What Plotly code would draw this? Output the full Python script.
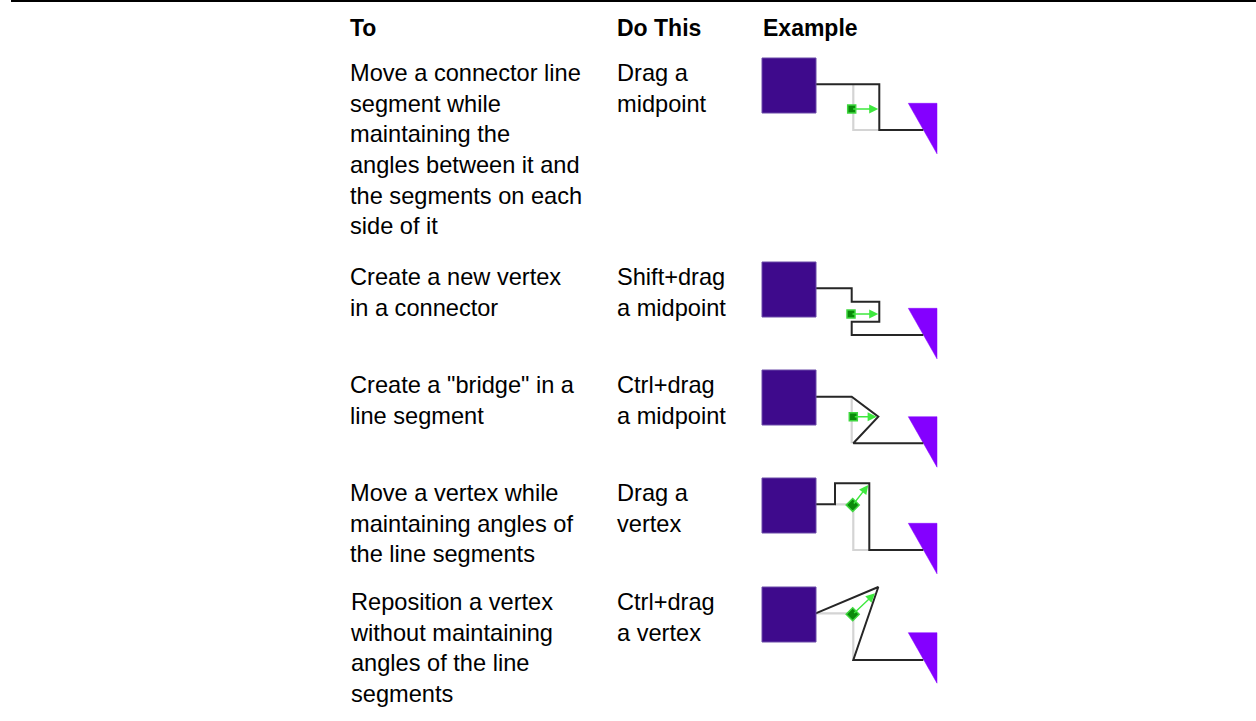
import plotly.graph_objects as go

# ---------------- data ----------------
headers = ["To", "Do This", "Example"]
to_text = [
    "Move a connector line<br>segment while<br>maintaining the<br>angles between it and<br>the segments on each<br>side of it",
    "Create a new vertex<br>in a connector",
    "Create a \"bridge\" in a<br>line segment",
    "Move a vertex while<br>maintaining angles of<br>the line segments",
    "Reposition a vertex<br>without maintaining<br>angles of the line<br>segments",
]
do_text = [
    "Drag a<br>midpoint",
    "Shift+drag<br>a midpoint",
    "Ctrl+drag<br>a midpoint",
    "Drag a<br>vertex",
    "Ctrl+drag<br>a vertex",
]
# example diagrams, in local coordinates relative to the shape's top-left corner
black_paths = [
    [(53.7, 26.3), (117.3, 26.3), (117.3, 72), (161.3, 72)],
    [(53.7, 26.3), (89.7, 26.3), (89.7, 39.7), (117.3, 39.7), (117.3, 59.7), (89.7, 59.7), (89.7, 73), (161.3, 73)],
    [(53.7, 26.7), (89.7, 26.7), (116.3, 46.7), (91.3, 73.3), (161.3, 73.3)],
    [(53.7, 26.3), (73, 26.3), (73, 5.3), (107.3, 5.3), (107.3, 72), (161.3, 72)],
    [(53.7, 26.3), (116.3, 0), (91.3, 73), (161.3, 73)],
]
gray_paths = [
    [(91.3, 26.3), (91.3, 72), (117.3, 72)],
    [],
    [(89.7, 26.7), (89.7, 73.3)],
    [(73, 26.3), (91.3, 26.3), (91.3, 72), (107.3, 72)],
    [(53.7, 26.3), (91.3, 26.3), (91.3, 73)],
]
handles = [(89.7, 51), (89, 52), (91.3, 46.7), (90.7, 27), (90.7, 27.3)]
handle_kind = ["square", "square", "square", "diamond", "diamond"]
arrow_heads = [(116.3, 51), (116.3, 52), (114.7, 46.7), (106.3, 7), (113, 6.3)]
triangle_top = [45.3, 46.3, 46.7, 45.3, 45.7]

# ---------------- layout ----------------
W, H = 1256, 721
FONT = "Liberation Sans, Arial, sans-serif"
col_x = [348, 615, 761]
row_tops = [58, 262, 370, 478, 587]     # top of each example's square
text_offset = 0                         # text box top relative to square top

fig = go.Figure()
shapes = []
annots = []

# top rule
shapes.append(dict(type="rect", x0=11, x1=W, y0=0, y1=2, fillcolor="#000000",
                   line=dict(width=0), layer="above"))

# headers
for h, x in zip(headers, col_x):
    annots.append(dict(x=x, y=13, text="<b>%s</b>" % h, xanchor="left", yanchor="top",
                       showarrow=False, font=dict(family=FONT, size=23, color="#000000")))

for i in range(5):
    top = row_tops[i]
    annots.append(dict(x=col_x[0], y=top + text_offset, text=to_text[i], xanchor="left",
                       yanchor="top", align="left", showarrow=False,
                       font=dict(family=FONT, size=23.6, color="#000000")))
    annots.append(dict(x=col_x[1], y=top + text_offset, text=do_text[i], xanchor="left",
                       yanchor="top", align="left", showarrow=False,
                       font=dict(family=FONT, size=23.6, color="#000000")))

    ox, oy = 762, top
    # square
    shapes.append(dict(type="rect", x0=ox, x1=ox + 54, y0=oy, y1=oy + 55,
                       fillcolor="#3e0a8c", line=dict(color="#6a4aa8", width=1)))
    # triangle (clipped)
    tt = triangle_top[i]
    tri = [(146.3, tt), (175, tt), (175, tt + 50.5)]
    fig.add_trace(go.Scatter(x=[ox + p[0] for p in tri] + [ox + tri[0][0]],
                             y=[oy + p[1] for p in tri] + [oy + tri[0][1]],
                             mode="lines", fill="toself", fillcolor="#8400ff",
                             line=dict(color="#8400ff", width=0.5), hoverinfo="skip",
                             showlegend=False))
    # gray original path
    if gray_paths[i]:
        fig.add_trace(go.Scatter(x=[ox + p[0] for p in gray_paths[i]],
                                 y=[oy + p[1] for p in gray_paths[i]],
                                 mode="lines", line=dict(color="#d4d4d4", width=2.2),
                                 hoverinfo="skip", showlegend=False))
    # black connector
    fig.add_trace(go.Scatter(x=[ox + p[0] for p in black_paths[i]],
                             y=[oy + p[1] for p in black_paths[i]],
                             mode="lines", line=dict(color="#262626", width=2),
                             hoverinfo="skip", showlegend=False))
    # green arrow
    hx, hy = handles[i]
    ax_, ay_ = arrow_heads[i]
    annots.append(dict(x=ox + ax_, y=oy + ay_, ax=ox + hx, ay=oy + hy, xref="x", yref="y",
                       axref="x", ayref="y", text="", showarrow=True, arrowhead=2,
                       arrowsize=1.3, arrowwidth=1.4, arrowcolor="#3ee83e"))
    # handle
    fig.add_trace(go.Scatter(x=[ox + hx], y=[oy + hy], mode="markers",
                             marker=dict(symbol=handle_kind[i], size=8 if handle_kind[i] == "square" else 10,
                                         color="#0a8a0a", line=dict(color="#3ed63e", width=1.5)),
                             hoverinfo="skip", showlegend=False))

fig.update_layout(
    width=W, height=H, margin=dict(l=0, r=0, t=0, b=0),
    paper_bgcolor="#ffffff", plot_bgcolor="#ffffff",
    xaxis=dict(range=[0, W], visible=False, fixedrange=True),
    yaxis=dict(range=[H, 0], visible=False, fixedrange=True),
    shapes=shapes, annotations=annots, showlegend=False,
)
fig.write_html("out.html", config={"displayModeBar": False},
               post_script="document.body.style.margin='0';document.body.style.overflow='hidden';")
